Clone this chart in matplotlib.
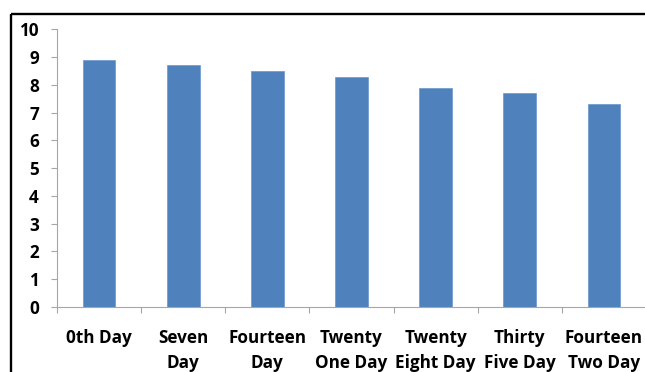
import matplotlib
matplotlib.use("Agg")
import matplotlib.pyplot as plt
from matplotlib.lines import Line2D
import numpy as np

categories = ["0th Day", "Seven\nDay", "Fourteen\nDay", "Twenty\nOne Day",
              "Twenty\nEight Day", "Thirty\nFive Day", "Fourteen\nTwo Day"]
values = [8.9, 8.7, 8.5, 8.3, 7.9, 7.7, 7.3]
yticks = list(range(0, 11))

W, H = 645, 372
dpi = 100
fig = plt.figure(figsize=(W / dpi, H / dpi), dpi=dpi)
plt.rcParams['font.family'] = ['Open Sans', 'DejaVu Sans']

left_px, right_px = 57, 646
bottom_px, top_px = 307, 29.3
ax = fig.add_axes([left_px / W, (H - bottom_px) / H,
                   (right_px - left_px) / W, (bottom_px - top_px) / H])

x = np.arange(len(categories))
ax.bar(x, values, width=0.39, color="#4F81BD", edgecolor="#6B96CC", linewidth=0.5, zorder=2)

ax.set_xlim(-0.5, len(categories) - 0.5)
ax.set_ylim(0, 10)
ax.set_yticks(yticks)
ax.set_yticklabels([str(t) for t in yticks], fontsize=12.3, fontweight='bold')
ax.set_xticks(x)
ax.set_xticklabels(categories, fontsize=12.3, fontweight='bold', linespacing=1.5)
ax.set_xticks(np.arange(-0.5, len(categories) + 0.5, 1), minor=True)

grey = "#A6A6A6"
for s in ['top', 'right']:
    ax.spines[s].set_visible(False)
for s in ['left', 'bottom']:
    ax.spines[s].set_color(grey)
    ax.spines[s].set_linewidth(0.8)

ax.tick_params(axis='y', length=4, width=0.8, color=grey, pad=9, direction='out')
ax.tick_params(axis='x', which='major', length=0, pad=16)
ax.tick_params(axis='x', which='minor', length=4, width=0.8, color=grey, direction='out')

# outer chart frame (only left and top edges visible in the crop)
fx = 11.3 / W
fy = 1 - 14.3 / H
fig.add_artist(Line2D([fx, fx], [0.0, fy], transform=fig.transFigure,
                      color='black', linewidth=1.7, solid_capstyle='butt'))
fig.add_artist(Line2D([fx, 1.0], [fy, fy], transform=fig.transFigure,
                      color='black', linewidth=1.7, solid_capstyle='butt'))

fig.savefig("out.png", dpi=dpi, facecolor='white')
